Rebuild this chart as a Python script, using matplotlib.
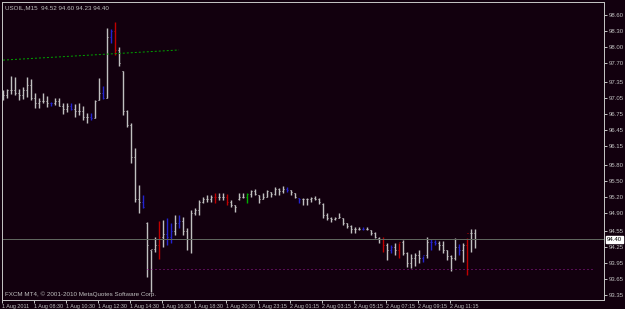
import numpy as np
import matplotlib
matplotlib.use("Agg")
import matplotlib.pyplot as plt

# USOIL M15 bars, 1-2 Aug 2011
highs = [97.20, 97.22, 97.46, 97.44, 97.22, 97.26, 97.44, 97.41, 97.14, 97.05,
         97.14, 97.09, 96.98, 97.05, 97.05, 96.96, 96.96, 96.96, 96.94, 96.96,
         96.90, 96.77, 96.77, 97.01, 97.43, 97.28, 98.36, 98.35, 98.48, 98.01,
         97.56, 96.83, 96.58, 96.11, 95.42, 95.23, 94.72, 94.20, 94.44, 94.74,
         94.76, 94.80, 94.71, 94.86, 94.86, 94.82, 94.61, 94.95, 94.99, 95.14,
         95.19, 95.23, 95.23, 95.27, 95.27, 95.27, 95.25, 95.14, 95.04, 95.27,
         95.27, 95.27, 95.33, 95.34, 95.23, 95.27, 95.33, 95.29, 95.38, 95.36,
         95.40, 95.38, 95.33, 95.27, 95.18, 95.18, 95.18, 95.19, 95.21, 95.18,
         95.08, 94.89, 94.82, 94.82, 94.89, 94.80, 94.71, 94.67, 94.63, 94.63,
         94.63, 94.63, 94.58, 94.54, 94.44, 94.44, 94.33, 94.29, 94.33, 94.33,
         94.39, 94.16, 94.12, 94.14, 94.20, 94.09, 94.44, 94.41, 94.39, 94.37,
         94.37, 94.20, 94.10, 94.42, 94.31, 94.33, 94.42, 94.59, 94.60]
lows = [97.01, 97.05, 97.13, 97.11, 97.01, 97.03, 97.07, 97.01, 96.86, 96.86,
        96.96, 96.88, 96.90, 96.92, 96.90, 96.75, 96.79, 96.83, 96.70, 96.73,
        96.64, 96.58, 96.64, 96.68, 97.01, 97.03, 97.05, 98.08, 97.86, 97.65,
        96.73, 96.51, 95.83, 95.10, 94.89, 94.99, 93.69, 93.41, 94.16, 94.03,
        94.26, 94.29, 94.33, 94.48, 94.61, 94.48, 94.20, 94.14, 94.86, 94.86,
        95.08, 95.10, 95.10, 95.08, 95.14, 95.14, 95.04, 95.00, 94.91, 95.14,
        95.18, 95.08, 95.19, 95.23, 95.08, 95.16, 95.19, 95.19, 95.23, 95.23,
        95.27, 95.29, 95.23, 95.18, 95.08, 95.04, 95.04, 95.10, 95.14, 95.06,
        94.80, 94.76, 94.72, 94.76, 94.80, 94.67, 94.61, 94.52, 94.52, 94.58,
        94.58, 94.58, 94.48, 94.42, 94.33, 94.16, 94.01, 94.14, 94.10, 94.05,
        94.10, 93.88, 93.86, 93.90, 93.96, 93.97, 94.05, 94.20, 94.29, 94.20,
        94.14, 94.01, 93.81, 94.01, 94.10, 93.97, 93.73, 94.16, 94.23]
opens = [97.15, 97.10, 97.20, 97.20, 97.15, 97.10, 97.20, 97.30, 97.05, 96.95,
         97.00, 97.00, 96.95, 96.95, 97.00, 96.90, 96.85, 96.90, 96.85, 96.80,
         96.80, 96.70, 96.70, 96.68, 97.02, 97.15, 97.05, 98.20, 98.30, 97.95,
         97.55, 96.80, 96.55, 95.95, 95.15, 95.10, 94.70, 94.20, 94.22, 94.30,
         94.45, 94.50, 94.45, 94.55, 94.70, 94.75, 94.55, 94.40, 94.90, 94.95,
         95.10, 95.15, 95.15, 95.20, 95.20, 95.20, 95.20, 95.10, 95.04, 95.15,
         95.20, 95.20, 95.25, 95.30, 95.23, 95.16, 95.20, 95.28, 95.25, 95.35,
         95.30, 95.35, 95.32, 95.26, 95.17, 95.15, 95.15, 95.15, 95.18, 95.15,
         95.07, 94.85, 94.80, 94.78, 94.80, 94.79, 94.70, 94.65, 94.60, 94.60,
         94.60, 94.60, 94.57, 94.52, 94.43, 94.40, 94.30, 94.20, 94.25, 94.20,
         94.35, 94.15, 93.95, 94.05, 94.10, 94.05, 94.10, 94.35, 94.35, 94.33,
         94.30, 94.20, 94.08, 94.05, 94.25, 94.20, 94.30, 94.52, 94.52]
closes = [97.10, 97.20, 97.20, 97.15, 97.10, 97.20, 97.30, 97.05, 96.95, 97.00,
          97.00, 96.95, 96.95, 97.00, 96.90, 96.85, 96.90, 96.85, 96.80, 96.80,
          96.70, 96.70, 96.68, 97.00, 97.15, 97.05, 98.20, 98.30, 97.95, 97.70,
          96.80, 96.55, 95.95, 95.15, 95.10, 95.00, 94.30, 94.22, 94.30, 94.45,
          94.50, 94.45, 94.55, 94.70, 94.75, 94.55, 94.40, 94.90, 94.95, 95.10,
          95.15, 95.15, 95.20, 95.20, 95.20, 95.20, 95.10, 95.05, 95.00, 95.20,
          95.20, 95.25, 95.30, 95.25, 95.15, 95.20, 95.30, 95.25, 95.35, 95.30,
          95.35, 95.32, 95.28, 95.20, 95.15, 95.15, 95.15, 95.18, 95.15, 95.10,
          94.85, 94.80, 94.78, 94.80, 94.82, 94.70, 94.65, 94.60, 94.60, 94.60,
          94.60, 94.60, 94.52, 94.45, 94.40, 94.30, 94.20, 94.25, 94.20, 94.35,
          94.15, 93.95, 94.05, 94.10, 94.05, 94.10, 94.35, 94.35, 94.33, 94.30,
          94.20, 94.08, 94.05, 94.25, 94.20, 94.30, 94.52, 94.52, 94.40]

blue_bars = [12, 17, 22, 25, 27, 35, 41, 42, 44, 71, 74, 90, 97, 105, 107, 108, 114]
red_bars = [28, 39, 53, 56, 95, 99, 116]
green_bars = [61]

price_ticks = [98.60, 98.30, 98.00, 97.70, 97.35, 97.05, 96.75, 96.45, 96.15,
               95.80, 95.50, 95.20, 94.90, 94.55, 94.25, 93.95, 93.65, 93.35]
time_labels = ['1 Aug 2011', '1 Aug 08:30', '1 Aug 10:30', '1 Aug 12:30',
               '1 Aug 14:30', '1 Aug 16:30', '1 Aug 18:30', '1 Aug 20:30',
               '1 Aug 23:15', '2 Aug 01:15', '2 Aug 03:15', '2 Aug 05:15',
               '2 Aug 07:15', '2 Aug 09:15', '2 Aug 11:15']
bid = 94.40
trend_x = [0, 44]
trend_y = [97.76, 97.95]
support_level = 93.85
support_start = 36

bg = '#12000e'
fg = '#c0c0c0'
px = 0.72  # one pixel in points at 100 dpi
small = ['Liberation Sans Narrow', 'Liberation Sans', 'DejaVu Sans']

plt.rcParams['font.family'] = small

fig = plt.figure(figsize=(6.25, 3.09), dpi=100, facecolor=bg)
ax = fig.add_axes([2 / 625, 9 / 309, 602 / 625, 298 / 309], facecolor=bg)

n = len(highs)
x = np.arange(n)
colors = [fg] * n
for i in blue_bars:
    colors[i] = '#2424d0'
for i in red_bars:
    colors[i] = '#c00000'
for i in green_bars:
    colors[i] = '#00b000'

# OHLC bars
ax.vlines(x, lows, highs, colors=colors, lw=1.4 * px)
ax.hlines(opens, x - 0.32, x, colors=colors, lw=1.0 * px)
ax.hlines(closes, x, x + 0.32, colors=colors, lw=1.0 * px)

# objects on chart
ax.plot(trend_x, trend_y, color='#00a000', lw=1 * px, ls=(0, (2, 2)))
ax.hlines(support_level, support_start, 148, colors='#9a1a9a', lw=1 * px,
          linestyles=(0, (1, 3)))
ax.axhline(bid, color='#5f665e', lw=1 * px)

ax.set_xlim(-0.25, 150.25)
ax.set_ylim(93.26, 98.85)

for s in ax.spines.values():
    s.set_color(fg)
    s.set_linewidth(1 * px)

ax.yaxis.tick_right()
ax.set_yticks(price_ticks)
ax.set_yticklabels([f'{v:.2f}' for v in price_ticks])
ax.tick_params(axis='y', colors=fg, labelsize=4.3, length=2, width=px, pad=1.5)
ax.set_xticks(np.arange(len(time_labels)) * 8 - 0.25)
ax.set_xticklabels(time_labels, ha='left')
ax.tick_params(axis='x', colors=fg, labelsize=3.9, length=2, width=px, pad=1.2)

ax.text(0.005, 0.99, 'USOIL,M15  94.52 94.60 94.23 94.40', transform=ax.transAxes,
        color=fg, fontsize=4.5, va='top', ha='left')
ax.text(0.005, 0.01, 'FXCM MT4, \u00a9 2001-2010 MetaQuotes Software Corp.',
        transform=ax.transAxes, color=fg, fontsize=4.5, va='bottom', ha='left')
ax.text(1.005, bid, f'{bid:.2f}', transform=ax.get_yaxis_transform(),
        color='black', fontsize=4.3, va='center', ha='left',
        bbox=dict(boxstyle='square,pad=0.15', fc='white', ec='white'))

fig.savefig('out.png', dpi=100, facecolor=bg)
